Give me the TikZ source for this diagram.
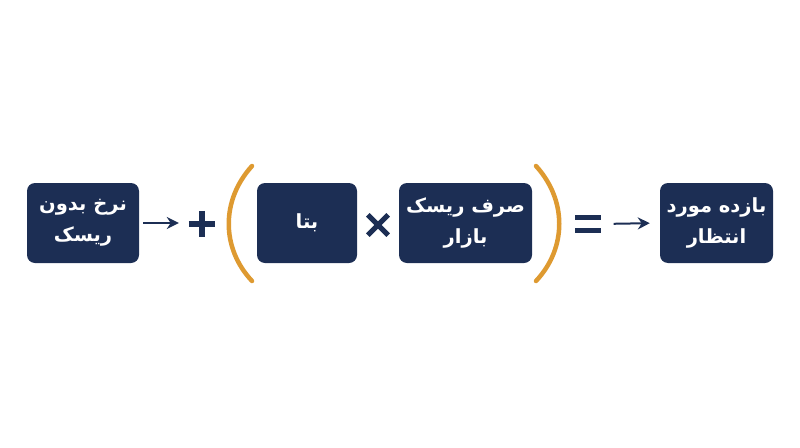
\documentclass[tikz,border=0pt]{standalone}
\usepackage{fontspec}
\newfontfamily\arabicfont[Script=Arabic]{DejaVu Sans}
\TeXXeTstate=1
\usetikzlibrary{arrows.meta}
\definecolor{navy}{HTML}{1C2E54}
\definecolor{gold}{HTML}{DE9A31}

\tikzset{
  termbox/.style={fill=navy, text=white, rounded corners=8pt, minimum height=80pt,
    align=center, inner sep=0pt, font=\arabicfont\bfseries\fontsize{19.5}{31}\selectfont},
  oparrow/.style={navy, line width=2pt, -{Stealth[length=12pt,width=12pt]}},
  opsign/.style={navy, line width=6pt},
  paren/.style={gold, line width=4.5pt, line cap=round}
}

\begin{document}
\begin{tikzpicture}[x=1pt, y=-1pt]
  \useasboundingbox (0,0) rectangle (800,447);

  % Jaabeha
  \node[termbox, minimum width=112pt] (risk) at (83,223)
    {\beginR نرخ بدون\endR\\\beginR ریسک\endR};
  \node[termbox, minimum width=100pt] (beta) at (307,223)
    {\beginR بتا\endR};
  \node[termbox, minimum width=133pt] (prem) at (465.5,223)
    {\beginR صرف ریسک\endR\\\beginR بازار\endR};
  \node[termbox, minimum width=113pt] (ret) at (716.5,223)
    {\beginR بازده مورد\endR\\\beginR انتظار\endR};

  % Alamat-ha
  \node[minimum size=26pt, inner sep=0pt] (plus) at (202,224) {};
  \draw[opsign] (plus.west) -- (plus.east);
  \draw[opsign] (plus.north) -- (plus.south);

  \node[minimum size=20pt, inner sep=0pt] (times) at (378,225) {};
  \draw[opsign, line width=5pt] (times.north west) -- (times.south east);
  \draw[opsign, line width=5pt] (times.north east) -- (times.south west);

  \node[minimum width=25pt, minimum height=18pt, inner sep=0pt] (eq) at (588,224) {};
  \draw[opsign, line width=5.5pt] ([yshift=-6.5pt]eq.west) -- ([yshift=-6.5pt]eq.east);
  \draw[opsign, line width=5.5pt] ([yshift=6.5pt]eq.west) -- ([yshift=6.5pt]eq.east);

  % Felesh-ha
  \draw[oparrow, shorten <=4pt, shorten >=10pt] (risk.east) -- (plus.west |- risk.east);
  \draw[oparrow, shorten <=13pt, shorten >=10pt] (eq.east) -- (ret.west);

  % Parantez
  \draw[paren] (252,166) .. controls (221,200) and (221,248) .. (252,281);
  \draw[paren] (536,166) .. controls (567,200) and (567,248) .. (536,281);
\end{tikzpicture}
\end{document}
